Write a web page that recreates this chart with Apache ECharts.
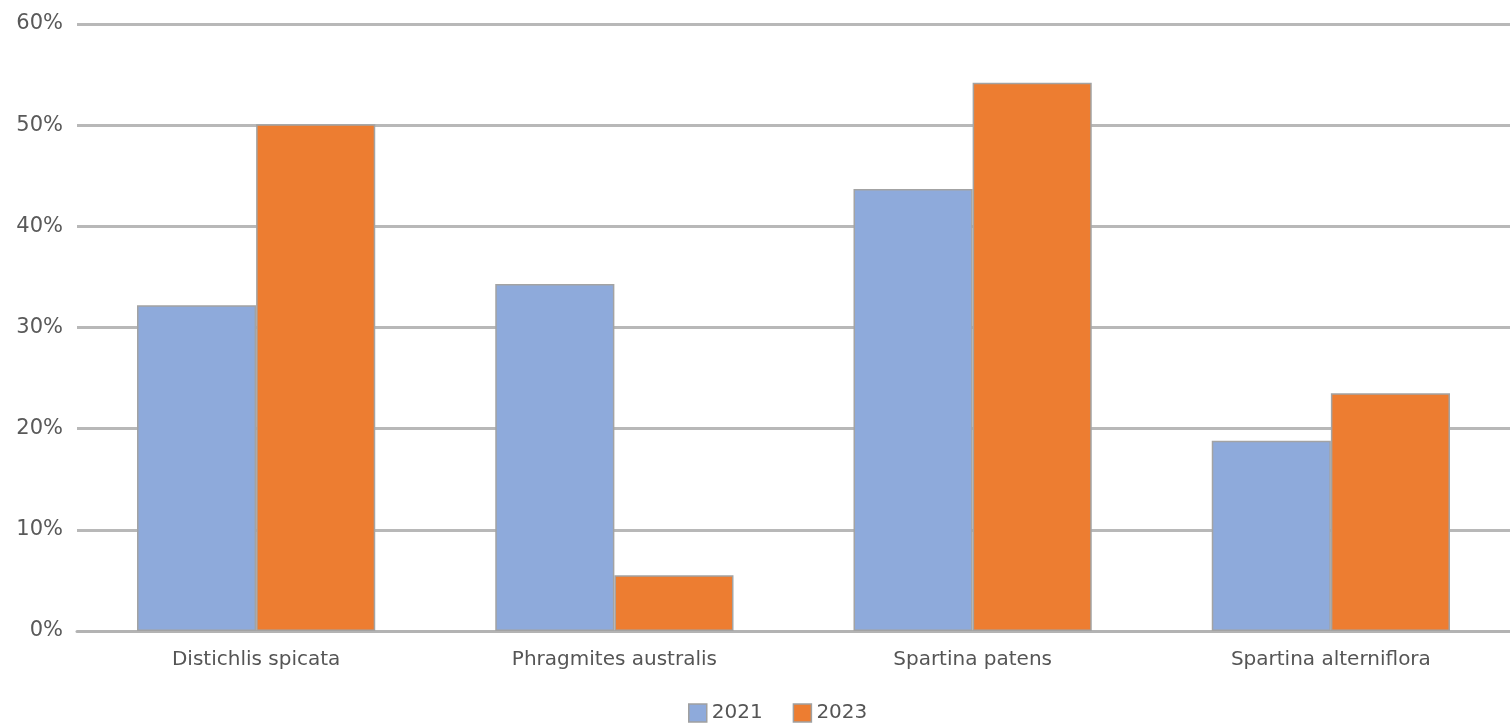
<!DOCTYPE html>
<html>
<head>
<meta charset="utf-8">
<script src="https://cdn.jsdelivr.net/npm/echarts@6/dist/echarts.min.js"></script>
<style>
  html, body { margin: 0; padding: 0; background: #fff; }
  #chart { width: 1510px; height: 726px; }
</style>
</head>
<body>
<div id="chart"></div>
<script>
var categories = ['Distichlis spicata', 'Phragmites australis', 'Spartina patens', 'Spartina alterniflora'];
var values2021 = [32.2, 34.3, 43.7, 18.8];
var values2023 = [50.1, 5.5, 54.2, 23.5];

var myChart = echarts.init(document.getElementById('chart'));

var barBorder = { borderColor: '#a3a3a3', borderWidth: 1.5 };
var font = 'DejaVu Sans';

var option = {
    animation: false,
    grid: { left: 77, right: 0, top: 24, bottom: 95, containLabel: false },
    legend: {
        bottom: 3,
        left: 688,
        padding: 0,
        itemWidth: 18,
        itemHeight: 18,
        itemGap: 30,
        icon: 'rect',
        textStyle: { color: '#555', fontSize: 20, fontFamily: font },
        data: [
            { name: '2021', itemStyle: { borderColor: '#a0a0a0', borderWidth: 1.5 } },
            { name: '2023', itemStyle: { borderColor: '#a0a0a0', borderWidth: 1.5 } }
        ]
    },
    xAxis: {
        type: 'category',
        data: categories,
        axisLine: { lineStyle: { color: '#b3b3b3', width: 3 } },
        axisTick: { show: false },
        axisLabel: { color: '#555', fontSize: 20, margin: 19, fontFamily: font }
    },
    yAxis: {
        type: 'value',
        min: 0,
        max: 60,
        interval: 10,
        axisLine: { show: false },
        axisTick: { show: false },
        axisLabel: { color: '#595959', fontSize: 21, margin: 14, formatter: '{value}%', fontFamily: font },
        splitLine: { lineStyle: { color: '#b8b8b8', width: 3 } }
    },
    series: [
        {
            name: '2021',
            type: 'bar',
            data: values2021,
            barGap: '0%',
            barCategoryGap: '33.5%',
            itemStyle: Object.assign({ color: '#8eaadb' }, barBorder)
        },
        {
            name: '2023',
            type: 'bar',
            data: values2023,
            itemStyle: Object.assign({ color: '#ed7d31' }, barBorder)
        }
    ]
};

myChart.setOption(option);
</script>
</body>
</html>
